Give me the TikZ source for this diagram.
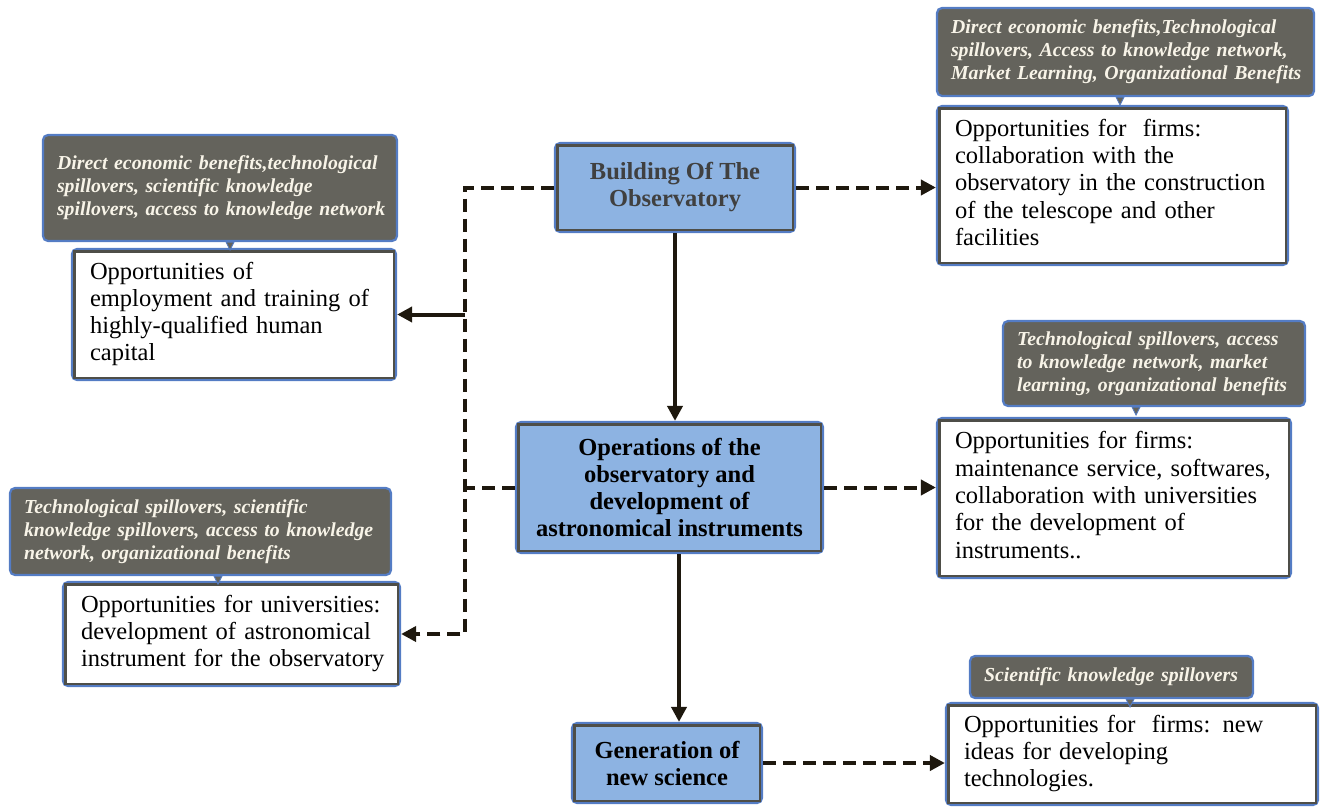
\documentclass[tikz,border=0pt]{standalone}
\usepackage{fontspec}
\setmainfont{Liberation Serif}
\usetikzlibrary{arrows.meta}
\definecolor{boxblue}{RGB}{141,179,226}
\definecolor{edgeblue}{RGB}{84,124,196}
\definecolor{notegray}{RGB}{100,99,92}
\definecolor{notetext}{RGB}{248,244,232}
\definecolor{framegray}{RGB}{78,78,72}
\definecolor{ink}{RGB}{30,24,14}
\definecolor{titlegray}{RGB}{64,64,64}
% unbreakable left-aligned lines
\newcommand{\lines}[1]{\begin{tabular}{@{}l@{}}#1\end{tabular}}
\tikzset{
  boxbase/.style={draw=edgeblue, line width=2.2pt, rounded corners=5pt, inner ysep=0pt},
  notebox/.style={boxbase, fill=notegray, text=notetext, align=left, inner xsep=14pt,
    font=\fontsize{19.8}{23}\selectfont\bfseries\itshape},
  textbox/.style={boxbase, fill=white, align=left, inner xsep=18pt,
    font=\fontsize{24.5}{27.3}\selectfont},
  stagebox/.style={boxbase, fill=boxblue, align=center, inner xsep=8pt,
    font=\fontsize{24.5}{27}\selectfont\bfseries},
  innerframe/.style={draw=framegray, line width=2.2pt},
  pointer/.style={fill=notegray, draw=edgeblue, line width=0.8pt},
  flow/.style={draw=ink, line width=4pt, -{Triangle[length=15pt,width=15pt]}},
  dflow/.style={flow, dash pattern=on 13pt off 7pt},
  dline/.style={draw=ink, line width=4pt, dash pattern=on 13pt off 7pt},
}
\begin{document}
\begin{tikzpicture}[x=1pt,y=-1pt]
\useasboundingbox (0,0) rectangle (1323,807);

% central stages
\node[stagebox, minimum width=240pt, minimum height=89pt, text=titlegray] (build) at (675,187.5)
  {Building Of The\\Observatory};
\node[stagebox, minimum width=307pt, minimum height=131pt] (ops) at (669.5,487.5)
  {Operations of the\\observatory and\\development of\\astronomical instruments};
\node[stagebox, minimum width=190pt, minimum height=80pt] (gen) at (667,763)
  {Generation of\\new science};

% opportunity boxes
\node[textbox, text width=315pt, minimum height=159pt] (trw) at (1112.5,185.5)
  {\lines{Opportunities for\ \ firms:\\collaboration with the\\observatory in the construction\\of the telescope and other\\facilities}};
\node[textbox, text width=288pt, minimum height=131pt] (l1w) at (234,314.5)
  {\lines{Opportunities of\\employment and training of\\highly-qualified human\\capital}};
\node[textbox, text width=301pt, minimum height=104pt] (l2w) at (231.5,634)
  {\lines{Opportunities for universities:\\development of astronomical\\instrument for the observatory}};
\node[textbox, text width=318pt, minimum height=160pt] (r2w) at (1114,498)
  {\lines{Opportunities for firms:\\maintenance service, softwares,\\collaboration with universities\\for the development of\\instruments..}};
\node[textbox, text width=336pt, minimum height=102pt] (r3w) at (1132,754)
  {\lines{Opportunities for\ \ firms: new\\ideas for developing\\technologies.}};

% benefit notes
\node[notebox, text width=349pt, minimum height=88pt] (trg) at (1125.5,52)
  {\lines{Direct economic benefits,Technological\\spillovers, Access to knowledge network,\\Market Learning, Organizational Benefits}};
\node[notebox, text width=326pt, minimum height=106pt] (l1g) at (220,188)
  {\lines{Direct economic benefits,technological\\spillovers, scientific knowledge\\spillovers, access to knowledge network}};
\node[notebox, text width=353pt, minimum height=87pt] (l2g) at (200.5,531.5)
  {\lines{Technological spillovers, scientific\\knowledge spillovers, access to knowledge\\network, organizational benefits}};
\node[notebox, text width=274pt, minimum height=85pt] (r2g) at (1154,363.5)
  {\lines{Technological spillovers, access\\to knowledge network, market\\learning, organizational benefits}};
\node[notebox, text width=255pt, minimum height=42pt] (r3g) at (1111.5,677)
  {\lines{Scientific knowledge spillovers}};

% inner frames of the stage and opportunity boxes
\foreach \n in {build,ops,gen,trw,l1w,l2w,r2w,r3w}
  \draw[innerframe] ([shift={(3.5,3.5)}]\n.north west) rectangle ([shift={(-3.5,-3.5)}]\n.south east);

% small pointers under the notes
\foreach \n/\dx in {trg/-5.5,l1g/10,l2g/17.5,r2g/-18,r3g/18.5}
  \draw[pointer] ([xshift=\dx-4]\n.south) -- ([xshift=\dx+4]\n.south) -- ([xshift=\dx, yshift=-8]\n.south) -- cycle;

% main chain
\draw[flow] (build.south) -- (build.south |- ops.north);
\coordinate (down) at (679,553);
\draw[flow] (down |- ops.south) -- (down |- gen.north);

% dashed links to the firms
\draw[dflow] (build.east) -- (trw.west |- build.east);
\draw[dflow] (ops.east) -- (r2w.west |- ops.east);
\draw[dflow] (gen.east) -- (r3w.west |- gen.east);

% left-hand bus
\coordinate (bus) at (465,187.5);
\draw[dflow] (build.west) -- (build.west -| bus) -- (bus |- l2w.east) -- (l2w.east);
\draw[dline] (ops.west) -- (ops.west -| bus);
\draw[flow] (bus |- l1w.east) -- (l1w.east);
\end{tikzpicture}
\end{document}
